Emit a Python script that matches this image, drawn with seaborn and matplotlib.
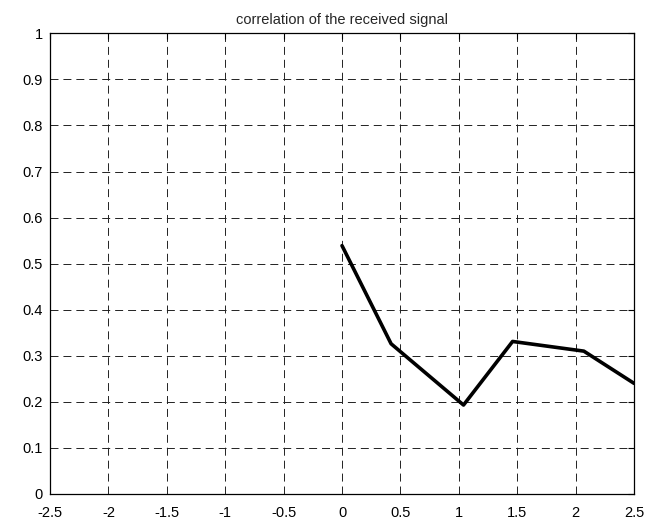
import matplotlib
matplotlib.use("Agg")
import matplotlib.pyplot as plt
import seaborn as sns
import pandas as pd

# -----------------------------
# Data
# -----------------------------
lag = [0.0, 0.42, 1.04, 1.46, 2.07, 2.5]
corr = [0.539, 0.326, 0.193, 0.331, 0.31, 0.24]
x_ticks = [-2.5, -2, -1.5, -1, -0.5, 0, 0.5, 1, 1.5, 2, 2.5]
x_labels = ["-2.5", "-2", "-1.5", "-1", "-0.5", "0", "0.5", "1", "1.5", "2", "2.5"]
y_ticks = [0, 0.1, 0.2, 0.3, 0.4, 0.5, 0.6, 0.7, 0.8, 0.9, 1]
y_labels = ["0", "0.1", "0.2", "0.3", "0.4", "0.5", "0.6", "0.7", "0.8", "0.9", "1"]

df = pd.DataFrame({"lag": lag, "corr": corr})

# -----------------------------
# Style
# -----------------------------
sns.set_style("white")
plt.rcParams["font.family"] = ["Liberation Sans", "DejaVu Sans"]

fig = plt.figure(figsize=(6.49, 5.21), dpi=100)
ax = fig.add_axes([0.077, 0.052, 0.9, 0.884])

sns.lineplot(
    data=df,
    x="lag",
    y="corr",
    color="black",
    linewidth=2.6,
    ax=ax
)

ax.set_xlim(-2.5, 2.5)
ax.set_ylim(0, 1)
ax.set_xticks(x_ticks)
ax.set_xticklabels(x_labels)
ax.set_yticks(y_ticks)
ax.set_yticklabels(y_labels)
ax.set_xlabel("")
ax.set_ylabel("")

ax.grid(True, color="#222222", linestyle=(0, (8.2, 5.1)), linewidth=0.7)
ax.tick_params(
    direction="in",
    length=4,
    width=0.8,
    labelsize=10.5,
    top=True,
    right=True,
    colors="black"
)
ax.tick_params(axis="x", pad=9)
ax.tick_params(axis="y", pad=5)
for spine in ax.spines.values():
    spine.set_color("black")
    spine.set_linewidth(0.9)

ax.set_title("correlation of the received signal", fontsize=10.5, pad=7)

plt.savefig("out.png", dpi=100)
plt.close()
